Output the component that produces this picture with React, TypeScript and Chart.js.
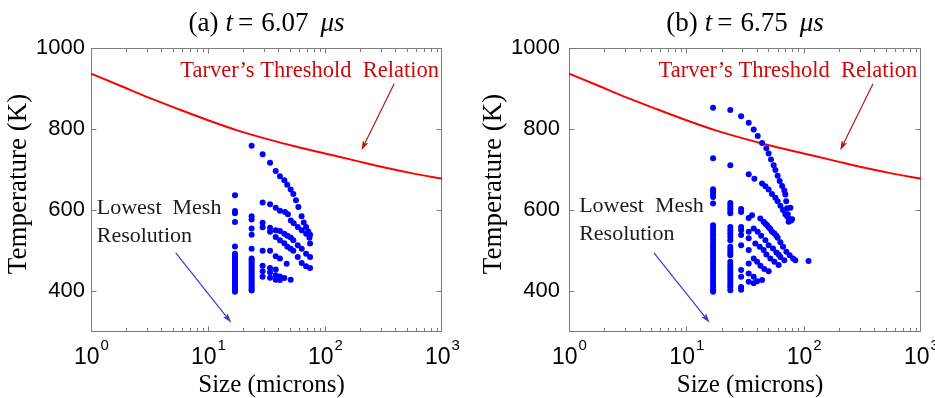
import React, { useEffect, useRef } from "react";
import { Chart, registerables } from "chart.js";

Chart.register(...registerables);

const SERIF = '"Liberation Serif", "Times New Roman", serif';
const SANS = '"Liberation Sans", Arial, sans-serif';

// Axis ranges and ticks
const sizeMin = 1;
const sizeMax = 1000;
const tempMin = 300;
const tempMax = 1000;
const sizeTickExponents = [0, 1, 2, 3];
const tempTicks = [400, 600, 800, 1000];

// Tarver's threshold relation (critical hot-spot temperature vs. size)
const thresholdSize = [1, 1.78, 3.16, 5.62, 10, 17.8, 31.6, 56.2, 100, 178, 316, 562, 1000];
const thresholdTemp = [937, 907, 877, 849, 822, 797, 776, 757, 740, 723, 706, 691, 678];

// Hot-spot samples, panel (a) t = 6.07 us
const sizesA = [
  17.0, 17.0, 17.0, 17.0, 17.0, 17.0, 17.0, 17.0, 17.0, 17.0, 17.0, 17.0, 17.0,
  17.0, 17.0, 17.0, 17.0, 17.0, 17.0, 17.0, 17.0, 17.0, 17.0, 17.0, 17.0,
  23.6, 23.6, 23.6, 23.6, 23.6, 23.6, 23.6, 23.6, 23.6, 23.6, 23.6, 23.6,
  23.6, 23.6, 23.6, 23.6, 23.6, 23.6, 23.6, 23.6, 23.6, 23.6, 23.6,
  29.3, 29.3, 29.3, 29.3, 29.3, 29.3, 29.3, 29.3,
  33.9, 33.9, 33.9, 33.9, 33.9, 33.9, 33.9, 33.9,
  37.9, 37.9, 37.9, 37.9, 37.9, 37.9, 37.9, 37.9,
  41.2, 41.2, 41.2, 41.2, 41.2, 41.2, 41.2,
  44.9, 47.6, 50.9, 53.6, 56.5, 59.2, 63.1, 65.8, 68.9, 72.0, 74.5,
  45.5, 48.2, 51.0, 54.0, 58.5, 63.2, 68.9, 73.6, 74.5,
  44.9, 47.7, 50.9, 53.6, 58.5, 63.2, 68.9, 74.5,
  44.9, 47.7, 50.9, 53.6, 58.5, 63.2, 68.9, 74.5,
  47.0, 44.9, 50.9,
];
const tempsA = [
  637, 598, 593, 571, 511, 493, 488, 483, 478, 473, 468, 463, 458,
  453, 448, 443, 438, 433, 428, 423, 418, 413, 408, 403, 399,
  759, 585, 577, 555, 540, 505, 481, 476, 471, 466, 461, 456,
  451, 446, 441, 436, 431, 426, 421, 416, 411, 406, 402,
  738, 619, 569, 558, 500, 463, 450, 436,
  717, 615, 557, 547, 500, 458, 447, 434,
  697, 606, 551, 534, 487, 454, 440, 429,
  684, 599, 549, 526, 481, 437, 428,
  674, 663, 651, 640, 625, 608, 585, 570, 559, 548, 540,
  596, 590, 575, 568, 559, 551, 542, 532, 518,
  542, 537, 533, 526, 514, 505, 493, 485,
  519, 510, 505, 500, 485, 470, 462, 458,
  468, 433, 429,
];

// Hot-spot samples, panel (b) t = 6.75 us
const sizesB = [
  16.9, 16.9, 16.9, 16.9, 16.9, 16.9, 16.9, 16.9, 16.9, 16.9, 16.9, 16.9, 16.9, 16.9, 16.9, 16.9,
  16.9, 16.9, 16.9, 16.9, 16.9, 16.9, 16.9, 16.9, 16.9, 16.9, 16.9, 16.9, 16.9, 16.9, 16.9,
  23.7, 23.7, 23.7, 23.7, 23.7, 23.7, 23.7, 23.7, 23.7, 23.7, 23.7, 23.7, 23.7, 23.7,
  23.7, 23.7, 23.7, 23.7, 23.7, 23.7, 23.7, 23.7, 23.7, 23.7, 23.7, 23.7, 23.7,
  29.3, 29.3, 29.3, 29.3, 29.3, 29.3, 29.3, 29.3, 29.3, 29.3, 29.3,
  34.0, 34.0, 34.0, 34.0, 34.0, 34.0, 34.0, 34.0, 34.0,
  37.5, 40.6, 44.2, 48.1, 50.3, 52.7, 55.5, 57.4, 60.0, 62.5, 65.5, 68.4, 69.8, 71.0, 72.2, 73.2, 74.5, 77.1, 79.6,
  38.0, 44.2, 47.2, 50.3, 53.7, 57.4, 60.0, 63.3, 66.7, 69.8, 72.2, 75.0, 78.1,
  36.3, 42.7, 45.6, 47.2, 48.8, 50.3, 52.0, 53.8, 56.3, 58.5, 60.0, 63.3, 66.7, 71.2, 76.0, 81.2, 85.0, 110,
  37.5, 40.6, 43.4, 47.2, 50.3, 54.8, 58.5, 61.2, 63.3, 68.4,
  38.7, 42.2, 45.6, 48.1, 52.0, 56.3, 61.2,
  37.5, 40.1, 42.8, 46.2, 50.3,
  37.5, 40.1, 44.2, 37.5,
];
const tempsB = [
  853, 728, 652, 646, 640, 633, 617, 563, 556, 549, 541, 534, 527, 519, 512, 505,
  497, 490, 483, 475, 468, 461, 453, 446, 439, 431, 424, 417, 410, 403, 399,
  847, 711, 618, 611, 605, 599, 593, 559, 551, 543, 535, 526, 510, 503,
  496, 489, 473, 466, 459, 452, 445, 438, 431, 424, 417, 410, 403,
  832, 603, 596, 559, 551, 539, 514, 453, 436, 411, 404,
  816, 689, 581, 547, 531, 502, 469, 444, 424,
  799, 783, 766, 753, 740, 725, 711, 699, 685, 672, 660, 649, 639, 622, 605, 590, 572, 606, 578,
  678, 666, 659, 651, 640, 631, 622, 611, 601, 590, 585, 579, 575,
  588, 580, 572, 567, 563, 558, 554, 547, 543, 537, 532, 521, 510, 498, 489, 481, 477, 475,
  555, 547, 537, 526, 514, 506, 496, 491, 485, 477,
  518, 510, 502, 491, 481, 473, 465,
  481, 473, 463, 455, 450,
  436, 425, 428, 420,
];

type Panel = {
  tag: string;
  time: string;
  sizes: number[];
  temps: number[];
  canvasWidth: number;
  yAxisWidth: number;
  tickPad: number;
  padRight: number;
  yTitleOffset: number;
  meshAt: number;
  meshTemps: number[];
};

const panelA: Panel = {
  tag: "(a)",
  time: "6.07",
  sizes: sizesA,
  temps: tempsA,
  canvasWidth: 467,
  yAxisWidth: 91,
  tickPad: 6,
  padRight: 25,
  yTitleOffset: 72,
  meshAt: 1.12,
  meshTemps: [592, 522],
};

const panelB: Panel = {
  tag: "(b)",
  time: "6.75",
  sizes: sizesB,
  temps: tempsB,
  canvasWidth: 468,
  yAxisWidth: 102,
  tickPad: 9,
  padRight: 14,
  yTitleOffset: 75,
  meshAt: 1.22,
  meshTemps: [596, 526],
};

function drawArrow(
  ctx: CanvasRenderingContext2D,
  x1: number, y1: number, x2: number, y2: number,
  color: string
) {
  const ang = Math.atan2(y2 - y1, x2 - x1);
  const head = 10;
  const spread = 0.3;
  const back = head * 0.75;
  ctx.strokeStyle = color;
  ctx.fillStyle = color;
  ctx.lineWidth = 1.2;
  ctx.beginPath();
  ctx.moveTo(x1, y1);
  ctx.lineTo(x2 - back * Math.cos(ang), y2 - back * Math.sin(ang));
  ctx.stroke();
  ctx.beginPath();
  ctx.moveTo(x2, y2);
  ctx.lineTo(x2 - head * Math.cos(ang - spread), y2 - head * Math.sin(ang - spread));
  ctx.lineTo(x2 - back * Math.cos(ang), y2 - back * Math.sin(ang));
  ctx.lineTo(x2 - head * Math.cos(ang + spread), y2 - head * Math.sin(ang + spread));
  ctx.closePath();
  ctx.fill();
}

function framePlugin(panel: Panel) {
  return {
    id: "frame",
    beforeDatasetsDraw(chart: any) {
      const { ctx, chartArea: a, scales } = chart;
      const x = scales.x;
      const y = scales.y;
      const L = Math.round(a.left) + 0.5;
      const R = Math.round(a.right) - 0.5;
      const T = Math.round(a.top) + 0.5;
      const B = Math.round(a.bottom) - 0.5;
      ctx.save();
      ctx.strokeStyle = "#7c7c7c";
      ctx.lineWidth = 1;
      ctx.strokeRect(L, T, R - L, B - T);
      ctx.beginPath();
      // log ticks along bottom and top, pointing inward
      for (let k = 0; k < 3; k++) {
        for (let m = 1; m <= 9; m++) {
          const v = m * Math.pow(10, k);
          const px = Math.round(x.getPixelForValue(v)) + 0.5;
          const len = m === 1 ? 5 : 3.5;
          ctx.moveTo(px, B);
          ctx.lineTo(px, B - len);
          ctx.moveTo(px, T);
          ctx.lineTo(px, T + len);
        }
      }
      // temperature ticks along left and right
      for (const v of tempTicks) {
        const py = Math.round(y.getPixelForValue(v)) + 0.5;
        ctx.moveTo(L, py);
        ctx.lineTo(L + 5, py);
        ctx.moveTo(R, py);
        ctx.lineTo(R - 5, py);
      }
      ctx.stroke();
      ctx.restore();
    },
    afterDraw(chart: any) {
      const { ctx, chartArea: a, scales } = chart;
      const x = scales.x;
      const y = scales.y;
      const cx = (a.left + a.right) / 2;
      ctx.save();
      ctx.fillStyle = "#000";
      ctx.textBaseline = "alphabetic";

      // title with italic symbols
      const parts = [
        { text: panel.tag, italic: false, gap: 7 },
        { text: "t", italic: true, gap: 5 },
        { text: "=", italic: false, gap: 8 },
        { text: panel.time, italic: false, gap: 12 },
        { text: "\u03bcs", italic: true, gap: 0 },
      ];
      let total = 0;
      const widths = parts.map((p) => {
        ctx.font = `${p.italic ? "italic " : ""}27px ${SERIF}`;
        const w = ctx.measureText(p.text).width;
        total += w + p.gap;
        return w;
      });
      let tx = cx - total / 2;
      parts.forEach((p, i) => {
        ctx.font = `${p.italic ? "italic " : ""}27px ${SERIF}`;
        ctx.textAlign = "left";
        ctx.fillText(p.text, tx, 31);
        tx += widths[i] + p.gap;
      });

      // x tick labels: powers of ten
      for (const e of sizeTickExponents) {
        const px = x.getPixelForValue(Math.pow(10, e));
        ctx.font = `23px ${SANS}`;
        const wBase = ctx.measureText("10").width;
        ctx.font = `15px ${SANS}`;
        const wExp = ctx.measureText(String(e)).width;
        const start = px - (wBase + wExp) / 2;
        ctx.textAlign = "left";
        ctx.font = `23px ${SANS}`;
        ctx.fillText("10", start, 364);
        ctx.font = `15px ${SANS}`;
        ctx.fillText(String(e), start + wBase + 1, 350);
      }

      // axis titles
      ctx.font = `25px ${SERIF}`;
      ctx.textAlign = "center";
      ctx.fillText("Size (microns)", cx + 5, 392);
      ctx.save();
      ctx.translate(a.left - panel.yTitleOffset, (a.top + a.bottom) / 2 - 6);
      ctx.rotate(-Math.PI / 2);
      ctx.textBaseline = "middle";
      ctx.font = `27px ${SERIF}`;
      ctx.fillText("Temperature (K)", 0, 0);
      ctx.restore();

      // annotations
      ctx.textAlign = "left";
      ctx.font = `22.5px ${SERIF}`;
      ctx.fillStyle = "#cc0a0a";
      ctx.fillText("Tarver\u2019s Threshold  Relation", x.getPixelForValue(5.8), y.getPixelForValue(928));
      drawArrow(
        ctx,
        x.getPixelForValue(390), y.getPixelForValue(912),
        x.getPixelForValue(205), y.getPixelForValue(748),
        "#b81414"
      );

      ctx.font = `22px ${SERIF}`;
      ctx.fillStyle = "#1c1c1c";
      ctx.fillText("Lowest  Mesh", x.getPixelForValue(panel.meshAt), y.getPixelForValue(panel.meshTemps[0]));
      ctx.fillText("Resolution", x.getPixelForValue(panel.meshAt), y.getPixelForValue(panel.meshTemps[1]));
      drawArrow(
        ctx,
        x.getPixelForValue(5.3), y.getPixelForValue(495),
        x.getPixelForValue(15.8), y.getPixelForValue(323),
        "#3a3ac8"
      );
      ctx.restore();
    },
  };
}

function makeChart(canvas: HTMLCanvasElement, panel: Panel) {
  const points = panel.sizes.map((s, i) => ({ x: s, y: panel.temps[i] }));
  const curve = thresholdSize.map((s, i) => ({ x: s, y: thresholdTemp[i] }));
  return new Chart(canvas, {
    type: "scatter",
    data: {
      datasets: [
        {
          type: "scatter",
          data: points,
          backgroundColor: "#0000ff",
          borderWidth: 0,
          pointRadius: 3,
          pointHoverRadius: 3,
        },
        {
          type: "line",
          data: curve,
          borderColor: "#ff0000",
          borderWidth: 2,
          pointRadius: 0,
          fill: false,
          cubicInterpolationMode: "monotone",
        },
      ],
    } as any,
    options: {
      responsive: false,
      animation: false,
      events: [],
      layout: { padding: { top: 48, right: panel.padRight, left: 0, bottom: 0 } },
      plugins: {
        legend: { display: false },
        title: { display: false },
        tooltip: { enabled: false },
      },
      scales: {
        x: {
          type: "logarithmic",
          min: sizeMin,
          max: sizeMax,
          ticks: { display: false },
          grid: { display: false, drawTicks: false },
          border: { display: false },
          afterFit: (s: any) => {
            s.height = 66;
          },
        },
        y: {
          type: "linear",
          min: tempMin,
          max: tempMax,
          afterBuildTicks: (s: any) => {
            s.ticks = tempTicks.map((value) => ({ value }));
          },
          ticks: {
            callback: (v: any) => String(v),
            font: { family: SANS, size: 22 },
            color: "#000",
            padding: panel.tickPad,
          },
          grid: { display: false, drawTicks: false },
          border: { display: false },
          afterFit: (s: any) => {
            s.width = panel.yAxisWidth;
          },
        },
      },
    } as any,
    plugins: [framePlugin(panel)],
  });
}

export default function App() {
  const refA = useRef<HTMLCanvasElement>(null);
  const refB = useRef<HTMLCanvasElement>(null);

  useEffect(() => {
    const charts = [makeChart(refA.current!, panelA), makeChart(refB.current!, panelB)];
    return () => charts.forEach((c) => c.destroy());
  }, []);

  return (
    <div
      style={{
        position: "absolute",
        left: 0,
        top: 0,
        width: 935,
        height: 398,
        background: "#fff",
        overflow: "hidden",
      }}
    >
      <canvas
        ref={refA}
        width={panelA.canvasWidth}
        height={398}
        style={{ position: "absolute", left: 0, top: 0 }}
      />
      <canvas
        ref={refB}
        width={panelB.canvasWidth}
        height={398}
        style={{ position: "absolute", left: 467, top: 0 }}
      />
    </div>
  );
}
